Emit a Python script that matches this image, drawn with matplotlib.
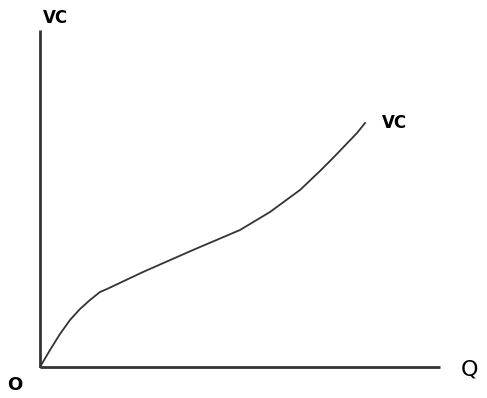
import matplotlib.pyplot as plt

# curve points (Q, VC)
q = [0, 10, 20, 30, 40, 50, 60, 67, 103, 153, 200, 230, 260, 280, 293, 317, 325]
vc = [0, 17, 33, 47, 58, 67, 75, 78, 95, 117, 137, 155, 177, 196, 209, 234, 244]

fig = plt.figure(figsize=(4.87, 3.98), dpi=100)
ax = fig.add_axes([0, 0, 1, 1])
ax.set_xlim(-40, 447)
ax.set_ylim(-31, 367)
ax.axis('off')

# axes drawn by hand, like the sketch
ax.plot([0, 0], [0, 337], color='#333333', lw=2, solid_capstyle='butt')
ax.plot([0, 400], [0, 0], color='#333333', lw=2, solid_capstyle='butt')

ax.plot(q, vc, color='#333333', lw=1.3)

ax.text(15, 349, 'VC', fontsize=12, ha='center', va='center', fontweight='bold')
ax.text(354, 244, 'VC', fontsize=12, ha='center', va='center', fontweight='bold')
ax.text(430, -2, 'Q', fontsize=16, ha='center', va='center')
ax.text(-25, -18, 'O', fontsize=13, ha='center', va='center', fontweight='bold')

plt.savefig('out.png', dpi=100)
